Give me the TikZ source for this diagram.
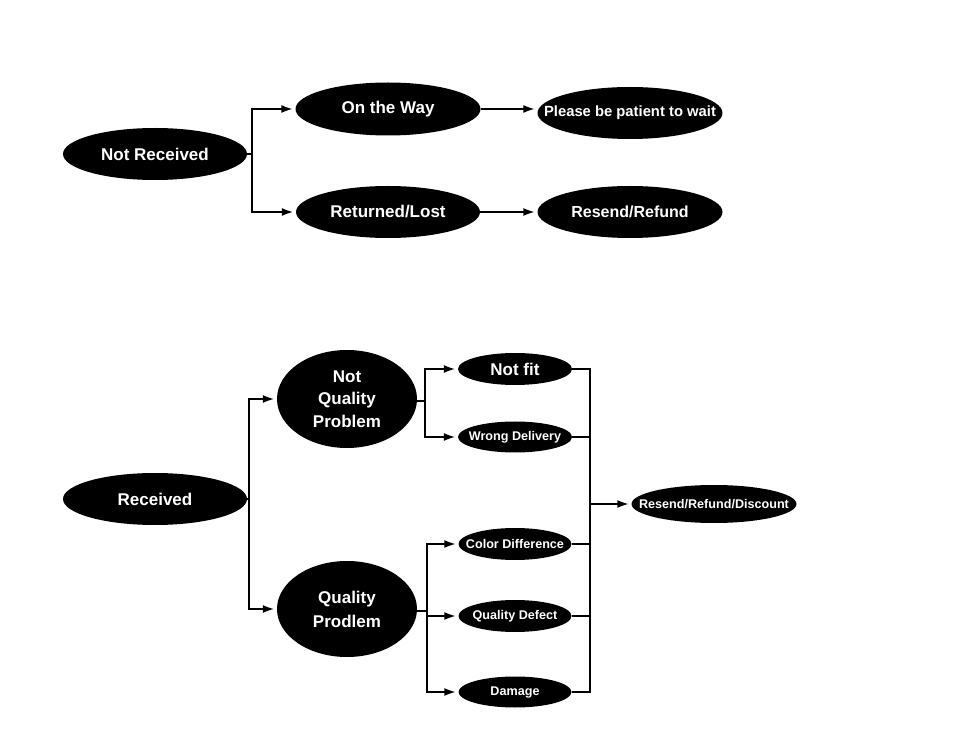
\documentclass[tikz,border=0pt]{standalone}
\usepackage{fontspec}
\setmainfont{Liberation Sans}
\usetikzlibrary{shapes.geometric,arrows.meta}
\newcommand{\mbx}[1]{\makebox[0pt]{#1}}
\tikzset{
  blob/.style={ellipse, fill=black, text=white, inner sep=0pt, font=\bfseries\fontsize{17}{22.5}\selectfont, align=center},
  small/.style={font=\bfseries\fontsize{12.6}{15}\selectfont},
  conn/.style={line width=2.3pt, black},
  arr/.style={conn, -{Latex[length=12pt,width=8pt]}, shorten >=2pt},
}
\begin{document}
\begin{tikzpicture}[x=1pt,y=-1pt]
\path[use as bounding box, fill=white] (0,0) rectangle (978,751);
% top part
\node[blob, minimum width=184pt, minimum height=52pt] (nr) at (155,154) {\mbx{Not Received}};
\node[blob, minimum width=185pt, minimum height=53pt] (otw) at (388,109) {\mbx{On the Way}};
\node[blob, minimum width=185pt, minimum height=52pt, font=\bfseries\fontsize{14.8}{17}\selectfont] (pbp) at (630,113) {\mbx{Please be patient to wait}};
\node[blob, minimum width=184pt, minimum height=52pt] (rl) at (388,212) {\mbx{Returned/Lost}};
\node[blob, minimum width=185pt, minimum height=52pt, font=\bfseries\fontsize{16}{19}\selectfont] (rr) at (630,212) {\mbx{Resend/Refund}};
\coordinate (j1) at (252,154);
\draw[conn] (nr.east) -- (j1);
\draw[arr] (j1) |- (otw);
\draw[arr] (j1) |- (rl);
\draw[arr] (otw.east) -- (pbp.west |- otw.east);
\draw[arr] (rl.east) -- (rr.west |- rl.east);
% bottom part
\node[blob, minimum width=184pt, minimum height=52pt] (rec) at (155,499) {\mbx{Received}};
\node[blob, minimum width=140pt, minimum height=98pt] (nqp) at (347,399) {Not\\Quality\\Problem};
\node[blob, minimum width=140pt, minimum height=96pt, font=\bfseries\fontsize{17}{24}\selectfont] (qp) at (347,609) {Quality\\Prodlem};
\node[blob, minimum width=114pt, minimum height=32pt] (nf) at (515,369) {\mbx{Not fit}};
\node[blob, small, minimum width=114pt, minimum height=31pt] (wd) at (515,437) {\mbx{Wrong Delivery}};
\node[blob, small, minimum width=113pt, minimum height=32pt] (cd) at (515,544) {\mbx{Color Difference}};
\node[blob, small, minimum width=113pt, minimum height=32pt] (qd) at (515,616) {\mbx{Quality Defect}};
\node[blob, small, minimum width=113pt, minimum height=31pt] (dm) at (515,692) {\mbx{Damage}};
\node[blob, small, minimum width=165pt, minimum height=38pt] (rrd) at (714,504) {\mbx{Resend/Refund/Discount}};
\coordinate (j2) at (249,499);
\coordinate (j3) at (425,401);
\coordinate (j4) at (427,611);
\coordinate (j5) at (590,504);
\draw[conn] (rec.east) -- (j2);
\draw[arr] (j2) |- (nqp);
\draw[arr] (j2) |- (qp);
\draw[conn] (nqp.east |- j3) -- (j3);
\draw[arr] (j3) |- (nf);
\draw[arr] (j3) |- (wd);
\draw[conn] (qp.east |- j4) -- (j4);
\draw[arr] (j4) |- (cd);
\draw[arr] (j4) |- (qd);
\draw[arr] (j4) |- (dm);
\draw[conn] (nf.east) -| (j5);
\draw[conn] (wd.east) -| (j5);
\draw[conn] (cd.east) -| (j5);
\draw[conn] (qd.east) -| (j5);
\draw[conn] (dm.east) -| (j5);
\draw[arr] (j5) -- (rrd);
\end{tikzpicture}
\end{document}
